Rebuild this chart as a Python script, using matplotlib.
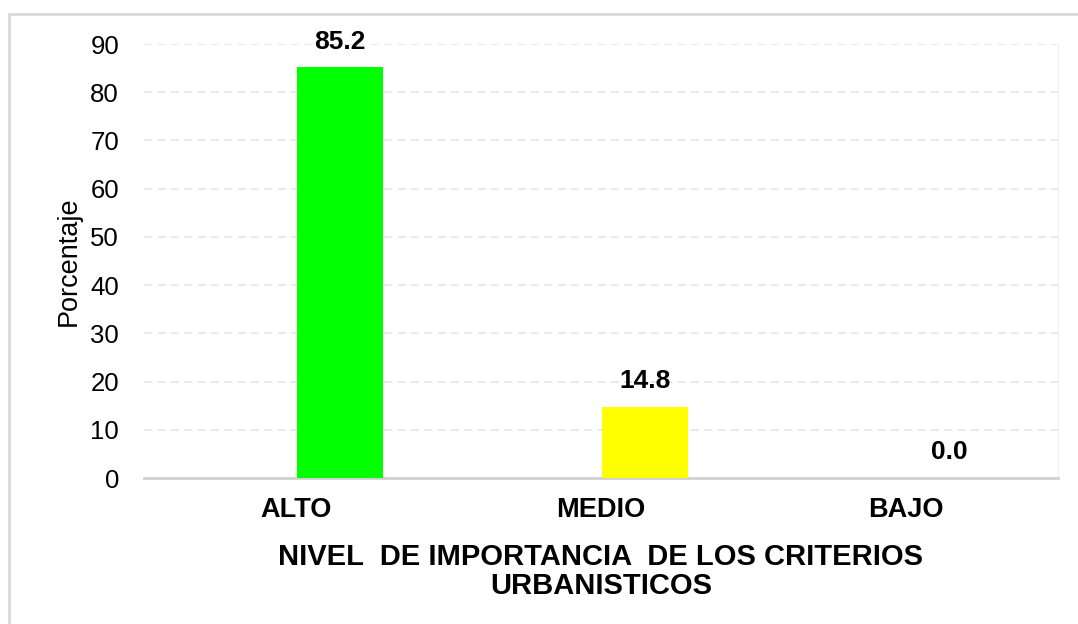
import matplotlib
matplotlib.use("Agg")
import matplotlib.pyplot as plt
from matplotlib.patches import Rectangle

categorias = ['ALTO', 'MEDIO', 'BAJO']
porcentajes = [85.2, 14.8, 0.0]
colores = ['#00ff00', '#ffff00', '#ff0000']
yticks = [0, 10, 20, 30, 40, 50, 60, 70, 80, 90]

plt.rcParams['font.family'] = ['Liberation Sans', 'DejaVu Sans']

fig = plt.figure(figsize=(10.78, 6.24), dpi=100)
fig.patches.append(Rectangle((9 / 1078, -0.1), 1.2, 1 - 14 / 624 + 0.1,
                             transform=fig.transFigure, fill=False,
                             edgecolor='#d9d9d9', linewidth=2))

ax = fig.add_axes([144 / 1078, 1 - 478 / 624, 914 / 1078, 434 / 624])
x = list(range(len(categorias)))
# bars sit right of the category centre (clustered layout)
xb = [xi + 0.144 for xi in x]
ax.bar(xb, porcentajes, width=0.283, color=colores, zorder=3)

for xi, v in zip(xb, porcentajes):
    ax.text(xi, v + 2.8, f'{v:.1f}', ha='center', va='bottom',
            fontsize=19, fontweight='bold')

ax.set_xlim(-0.5, 2.5)
ax.set_ylim(0, 90)
ax.set_yticks(yticks)
ax.set_xticks(x)
ax.set_xticklabels(categorias, fontsize=19.5, fontweight='bold')
ax.tick_params(axis='y', labelsize=18.5, length=0, pad=18)
ax.tick_params(axis='x', length=0, pad=14)
ax.grid(axis='y', color='#e6e6e6', linestyle=(0, (5, 3)), linewidth=1.2, zorder=0)

for s in ['top', 'left']:
    ax.spines[s].set_visible(False)
ax.spines['right'].set_color('#f0f0f0')
ax.spines['bottom'].set_color('#d0d0d0')
ax.spines['bottom'].set_linewidth(2)

ax.set_ylabel('Porcentaje', fontsize=19.5, labelpad=6)
ax.set_xlabel('NIVEL  DE IMPORTANCIA  DE LOS CRITERIOS\nURBANISTICOS',
              fontsize=21, fontweight='bold', labelpad=14, linespacing=1.05)

fig.savefig('out.png', dpi=100)
